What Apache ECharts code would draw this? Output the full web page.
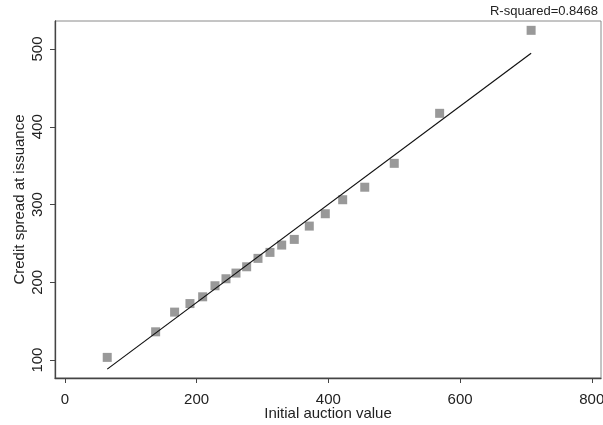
<!DOCTYPE html>
<html>
<head>
<meta charset="utf-8">
<script src="https://cdn.jsdelivr.net/npm/echarts@6/dist/echarts.min.js"></script>
<style>
  html, body { margin: 0; padding: 0; background: #ffffff; }
  #chart { width: 603px; height: 425px; }
</style>
</head>
<body>
<div id="chart"></div>
<script>
// Binned means: initial auction value vs. credit spread at issuance
const auctionValue = [64.3, 137.8, 166.6, 189.9, 209.2, 227.9, 244.6, 259.8, 276.0, 293.2,
                      311.4, 329.2, 348.3, 371.1, 395.4, 421.8, 455.3, 500.1, 569.0, 707.9];
const creditSpread = [103.5, 136.4, 161.7, 172.7, 181.4, 195.6, 204.6, 211.9, 220.0, 230.8,
                      238.5, 247.9, 255.2, 272.3, 288.2, 306.2, 322.3, 353.0, 417.3, 524.0];
// Fitted line endpoints
const fitX = [64.3, 707.9];
const fitY = [88.4, 494.5];
const xTicks = [0, 200, 400, 600, 800];
const yTicks = [100, 200, 300, 400, 500];
const rSquared = 'R-squared=0.8468';

const font = '"Liberation Sans", Arial, sans-serif';
const chart = echarts.init(document.getElementById('chart'));

chart.setOption({
  animation: false,
  backgroundColor: '#ffffff',
  title: {
    text: rSquared,
    right: 5,
    top: 5,
    padding: 0,
    textStyle: { fontFamily: font, fontSize: 13, fontWeight: 'normal', color: '#222' }
  },
  grid: {
    left: 55, right: 2, top: 21, bottom: 47,
    outerBoundsMode: 'none',
    containLabel: false,
    show: true, borderColor: '#8a8a8a', borderWidth: 1
  },
  xAxis: {
    type: 'value',
    min: -15, max: 814,
    name: 'Initial auction value',
    nameLocation: 'middle',
    nameGap: 28,
    nameMoveOverlap: false,
    nameTextStyle: { fontFamily: font, fontSize: 15, color: '#222' },
    axisLine: { show: true, onZero: false, lineStyle: { color: '#444', width: 1.3 } },
    axisTick: { show: true, length: 5, customValues: xTicks, lineStyle: { color: '#444' } },
    axisLabel: { customValues: xTicks, margin: 14, fontFamily: font, fontSize: 15, color: '#222' },
    splitLine: { show: false }
  },
  yAxis: {
    type: 'value',
    min: 77, max: 536,
    name: 'Credit spread at issuance',
    nameLocation: 'middle',
    nameGap: 28,
    nameMoveOverlap: false,
    nameTextStyle: { fontFamily: font, fontSize: 15, color: '#222' },
    axisLine: { show: true, onZero: false, lineStyle: { color: '#444', width: 1.3 } },
    axisTick: { show: true, length: 5, customValues: yTicks, lineStyle: { color: '#444' } },
    axisLabel: { customValues: yTicks, rotate: 90, margin: 10, fontFamily: font, fontSize: 15, color: '#222' },
    splitLine: { show: false }
  },
  series: [
    {
      type: 'scatter',
      symbol: 'rect',
      symbolSize: 9,
      itemStyle: { color: '#7f7f7f' },
      data: auctionValue.map((v, i) => [v, creditSpread[i]]),
      z: 2
    },
    {
      type: 'line',
      symbol: 'none',
      lineStyle: { color: '#111', width: 1.2 },
      data: fitX.map((v, i) => [v, fitY[i]]),
      z: 3
    }
  ]
});
</script>
</body>
</html>
